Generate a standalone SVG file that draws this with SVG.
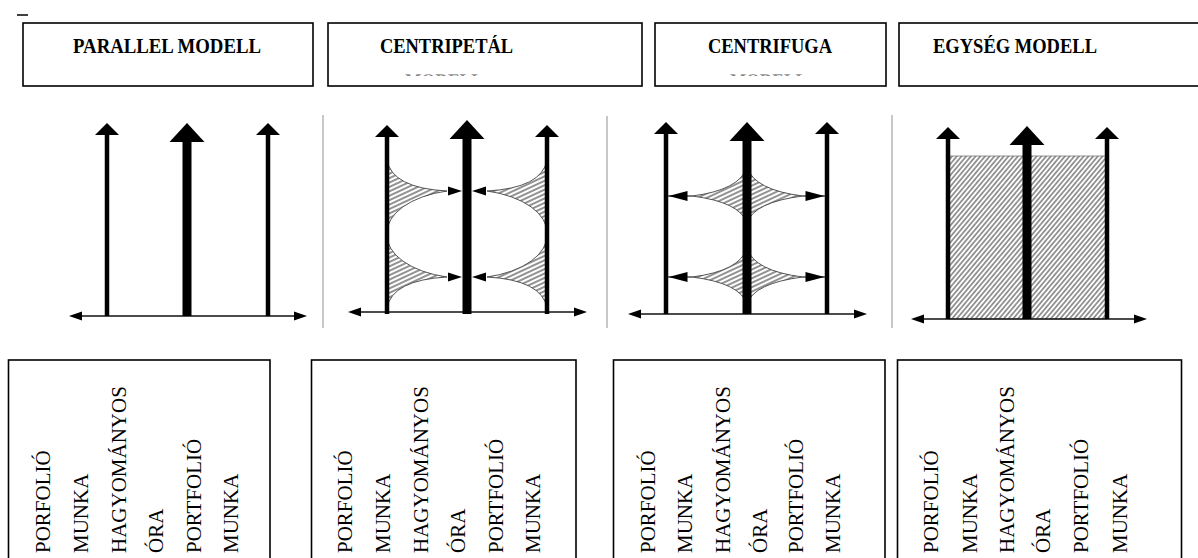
<svg xmlns="http://www.w3.org/2000/svg" width="1198" height="558" viewBox="0 0 1198 558">
<style>
.box{fill:#fff;stroke:#000;stroke-width:1.6}
.title{font-family:"Liberation Serif","Times New Roman",serif;font-weight:bold;font-size:21px;fill:#000}
.vt{font-family:"Liberation Serif","Times New Roman",serif;font-size:21px;fill:#000}
.thin{stroke:#000;stroke-width:4.5;fill:none}
.thick{stroke:#000;stroke-width:9;fill:none}
.axis{stroke:#111;stroke-width:1.5;fill:none}
.sep{stroke:#c8c8c8;stroke-width:2}
.hatchA{fill:url(#hA);stroke:#444;stroke-width:0.9}
.hatchB{fill:url(#hB);stroke:#666;stroke-width:0.7}
.link{stroke:#222;stroke-width:1.2}
.ghost{font-family:"Liberation Serif","Times New Roman",serif;font-weight:bold;font-size:21px;fill:#888}
</style>
<defs>
<pattern id="hA" patternUnits="userSpaceOnUse" width="4" height="4" patternTransform="rotate(-25)">
<rect width="4" height="4" fill="#fff"/>
<line x1="0" y1="2" x2="4" y2="2" stroke="#4a4a4a" stroke-width="1.2"/>
</pattern>
<pattern id="hB" patternUnits="userSpaceOnUse" width="3.6" height="3.6" patternTransform="rotate(-50)">
<rect width="3.6" height="3.6" fill="#fff"/>
<line x1="0" y1="1.8" x2="3.6" y2="1.8" stroke="#5a5a5a" stroke-width="1.2"/>
</pattern>
<path id="hThin" d="M0,0 L12,12 L-12,12 Z" fill="#000"/>
<path id="hThick" d="M0,0 L17.5,19 L-17.5,19 Z" fill="#000"/>
<path id="hAxisR" d="M0,0 L-13,-4.5 L-13,4.5 Z" fill="#000"/>
<path id="hAxisL" d="M0,0 L13,-4.5 L13,4.5 Z" fill="#000"/>
<path id="hMiniR" d="M0,0 L-14,-4.5 L-14,4.5 Z" fill="#000"/>
<path id="hMiniL" d="M0,0 L14,-4.5 L14,4.5 Z" fill="#000"/>
<path id="hOutL" d="M0,0 L19,-5 L19,5 Z" fill="#000"/>
<path id="hOutR" d="M0,0 L-19,-5 L-19,5 Z" fill="#000"/>
<clipPath id="cut1"><rect x="300" y="74.3" width="360" height="1.6"/></clipPath>
<clipPath id="cut2"><rect x="660" y="74.3" width="220" height="1.6"/></clipPath>
</defs>

<line x1="17" y1="15" x2="28" y2="15" stroke="#000" stroke-width="1.5"/>

<g id="title-parallel">
<rect class="box" x="23" y="23" width="290" height="63"/>
<text class="title" x="73" y="53" textLength="188" lengthAdjust="spacingAndGlyphs">PARALLEL MODELL</text>
</g>
<g id="title-centripetal">
<rect class="box" x="328" y="23" width="314" height="63"/>
<text class="title" x="380" y="53" textLength="133" lengthAdjust="spacingAndGlyphs">CENTRIPETÁL</text>
<text class="ghost" x="405" y="88" textLength="78" lengthAdjust="spacingAndGlyphs" clip-path="url(#cut1)">MODELL</text>
</g>
<g id="title-centrifuga">
<rect class="box" x="655" y="23" width="231" height="63"/>
<text class="title" x="708" y="53" textLength="124" lengthAdjust="spacingAndGlyphs">CENTRIFUGA</text>
<text class="ghost" x="730" y="88" textLength="77" lengthAdjust="spacingAndGlyphs" clip-path="url(#cut2)">MODELL</text>
</g>
<g id="title-egyseg">
<rect class="box" x="899" y="23" width="320" height="63"/>
<text class="title" x="933" y="53" textLength="164" lengthAdjust="spacingAndGlyphs">EGYSÉG MODELL</text>
</g>

<g id="separators">
<line class="sep" x1="323" y1="115" x2="323" y2="328"/>
<line class="sep" x1="607" y1="116" x2="607" y2="328"/>
<line class="sep" x1="892" y1="115" x2="892" y2="328"/>
</g>

<g id="diagram-parallel">
<line class="axis" x1="75" y1="316" x2="300" y2="316"/>
<use href="#hAxisL" x="69" y="316"/>
<use href="#hAxisR" x="307" y="316"/>
<line class="thin" x1="107" y1="134" x2="107" y2="316"/>
<use href="#hThin" x="107" y="123"/>
<line class="thick" x1="187" y1="140" x2="187" y2="316"/>
<use href="#hThick" x="187" y="123"/>
<line class="thin" x1="268" y1="134" x2="268" y2="316"/>
<use href="#hThin" x="268" y="123"/>
</g>

<g id="diagram-centripetal">
<path class="hatchA" d="M387,160 Q392,188 447,191 A80,43 0 0,0 387,234 Z"/>
<path class="hatchA" d="M387,308 Q392,280 447,277 A80,43 0 0,1 387,234 Z"/>
<path class="hatchA" d="M547,160 Q542,188 487,191 A80,43 0 0,1 547,234 Z"/>
<path class="hatchA" d="M547,308 Q542,280 487,277 A80,43 0 0,0 547,234 Z"/>
<line class="axis" x1="354" y1="312" x2="580" y2="312"/>
<use href="#hAxisL" x="348" y="312"/>
<use href="#hAxisR" x="587" y="312"/>
<line class="thin" x1="387" y1="136" x2="387" y2="314"/>
<use href="#hThin" x="387" y="125"/>
<line class="thick" x1="467" y1="137" x2="467" y2="314"/>
<use href="#hThick" x="467" y="120"/>
<line class="thin" x1="547" y1="136" x2="547" y2="314"/>
<use href="#hThin" x="547" y="125"/>
<use href="#hMiniR" x="462" y="191"/>
<use href="#hMiniL" x="472" y="191"/>
<use href="#hMiniR" x="462" y="277"/>
<use href="#hMiniL" x="472" y="277"/>
</g>

<g id="diagram-centrifuga">
<path class="hatchA" d="M747,167 Q754,190 803,196 Q754,202 747,223 Q740,202 692,196 Q740,190 747,167 Z"/>
<path class="hatchA" d="M747,248 Q754,271 803,277 Q754,283 747,304 Q740,283 692,277 Q740,271 747,248 Z"/>
<line class="axis" x1="634" y1="314" x2="860" y2="314"/>
<use href="#hAxisL" x="628" y="314"/>
<use href="#hAxisR" x="867" y="314"/>
<line class="thin" x1="666" y1="133" x2="666" y2="314"/>
<use href="#hThin" x="666" y="122"/>
<line class="thick" x1="747" y1="139" x2="747" y2="314"/>
<use href="#hThick" x="747" y="122"/>
<line class="thin" x1="827" y1="133" x2="827" y2="314"/>
<use href="#hThin" x="827" y="122"/>
<line class="link" x1="668" y1="196" x2="692" y2="196"/>
<line class="link" x1="803" y1="196" x2="825" y2="196"/>
<line class="link" x1="668" y1="277" x2="692" y2="277"/>
<line class="link" x1="803" y1="277" x2="825" y2="277"/>
<use href="#hOutL" x="668.5" y="196"/>
<use href="#hOutR" x="824.5" y="196"/>
<use href="#hOutL" x="668.5" y="277"/>
<use href="#hOutR" x="824.5" y="277"/>
</g>

<g id="diagram-egyseg">
<rect class="hatchB" x="948" y="156" width="159" height="163"/>
<line class="axis" x1="917" y1="319" x2="1140" y2="319"/>
<use href="#hAxisL" x="911" y="319"/>
<use href="#hAxisR" x="1147" y="319"/>
<line class="thin" x1="948" y1="138" x2="948" y2="319"/>
<use href="#hThin" x="948" y="127"/>
<line class="thick" x1="1027" y1="143" x2="1027" y2="319"/>
<use href="#hThick" x="1027" y="126"/>
<line class="thin" x1="1107" y1="138" x2="1107" y2="319"/>
<use href="#hThin" x="1107" y="127"/>
</g>

<g id="labels-parallel">
<rect class="box" x="8.5" y="360" width="261.5" height="220"/>
<text class="vt" transform="translate(50,553) rotate(-90)">PORFOLIÓ</text>
<text class="vt" transform="translate(88,553) rotate(-90)">MUNKA</text>
<text class="vt" transform="translate(126,553) rotate(-90)">HAGYOMÁNYOS</text>
<text class="vt" transform="translate(163,553) rotate(-90)">ÓRA</text>
<text class="vt" transform="translate(201,553) rotate(-90)">PORTFOLIÓ</text>
<text class="vt" transform="translate(238,553) rotate(-90)">MUNKA</text>
</g>
<g id="labels-centripetal">
<rect class="box" x="311.5" y="360" width="264.5" height="220"/>
<text class="vt" transform="translate(352,553) rotate(-90)">PORFOLIÓ</text>
<text class="vt" transform="translate(390,553) rotate(-90)">MUNKA</text>
<text class="vt" transform="translate(428,553) rotate(-90)">HAGYOMÁNYOS</text>
<text class="vt" transform="translate(465,553) rotate(-90)">ÓRA</text>
<text class="vt" transform="translate(503,553) rotate(-90)">PORTFOLIÓ</text>
<text class="vt" transform="translate(540,553) rotate(-90)">MUNKA</text>
</g>
<g id="labels-centrifuga">
<rect class="box" x="613.5" y="360" width="271.5" height="220"/>
<text class="vt" transform="translate(655,553) rotate(-90)">PORFOLIÓ</text>
<text class="vt" transform="translate(692,553) rotate(-90)">MUNKA</text>
<text class="vt" transform="translate(730,553) rotate(-90)">HAGYOMÁNYOS</text>
<text class="vt" transform="translate(767,553) rotate(-90)">ÓRA</text>
<text class="vt" transform="translate(803,553) rotate(-90)">PORTFOLIÓ</text>
<text class="vt" transform="translate(840,553) rotate(-90)">MUNKA</text>
</g>
<g id="labels-egyseg">
<rect class="box" x="897.5" y="360" width="284" height="220"/>
<text class="vt" transform="translate(938,553) rotate(-90)">PORFOLIÓ</text>
<text class="vt" transform="translate(977,553) rotate(-90)">MUNKA</text>
<text class="vt" transform="translate(1014,553) rotate(-90)">HAGYOMÁNYOS</text>
<text class="vt" transform="translate(1050,553) rotate(-90)">ÓRA</text>
<text class="vt" transform="translate(1088,553) rotate(-90)">PORTFOLIÓ</text>
<text class="vt" transform="translate(1127,553) rotate(-90)">MUNKA</text>
</g>
</svg>
